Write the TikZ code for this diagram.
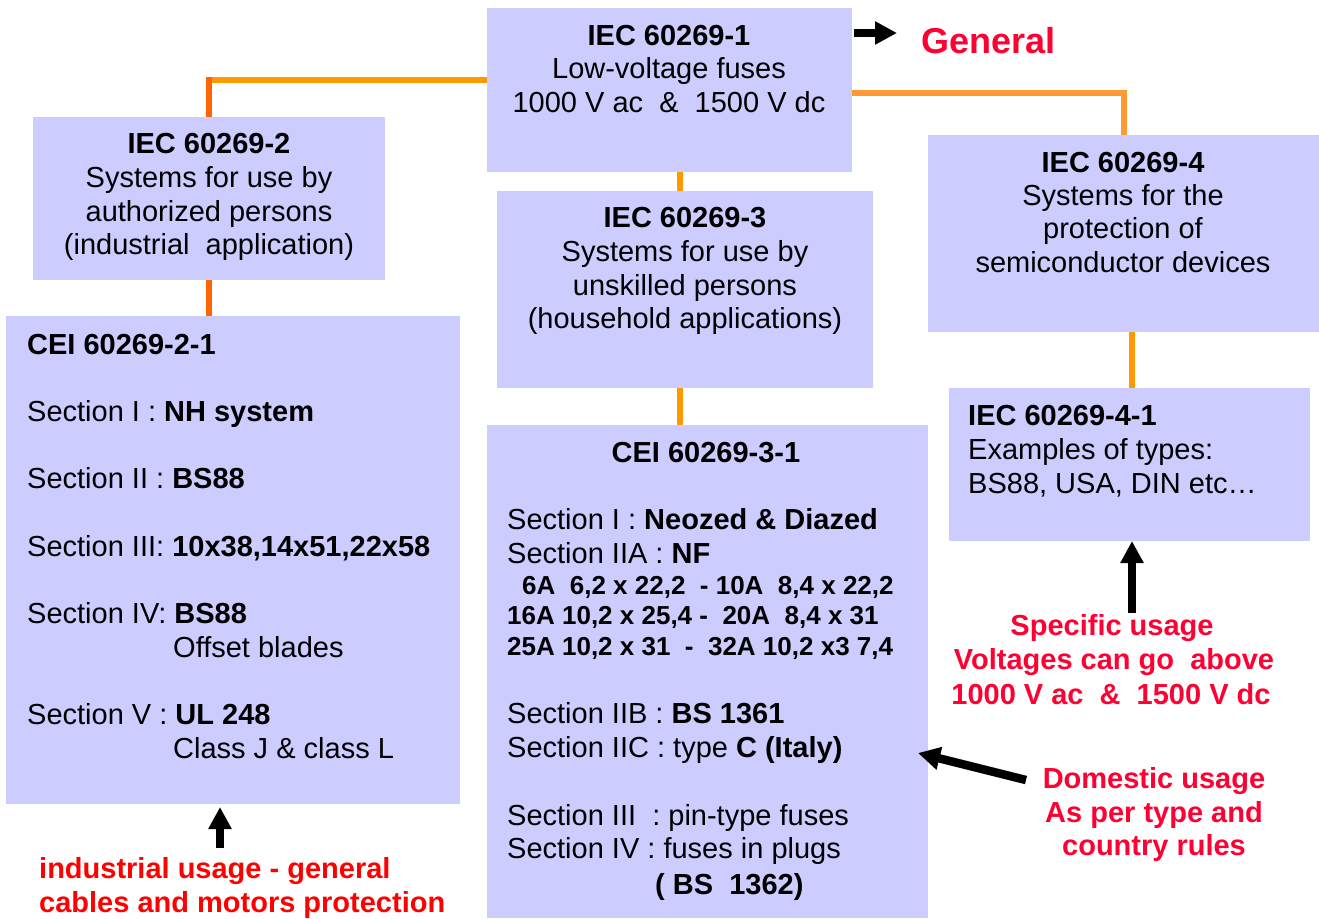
\documentclass[tikz,border=0pt]{standalone}
\usepackage{fontspec}
\setmainfont{Liberation Sans}
\usetikzlibrary{arrows.meta}
\definecolor{boxc}{HTML}{CCCCFF}
\definecolor{orA}{HTML}{FF9900}
\definecolor{orB}{HTML}{FF6600}
\definecolor{orC}{HTML}{FF9933}
\definecolor{redA}{HTML}{FF0033}
\definecolor{redB}{HTML}{FF0000}
\begin{document}
\begin{tikzpicture}[x=1pt,y=-1pt,
 box/.style={fill=boxc, inner sep=0pt, outer sep=0pt, anchor=north west},
 txt/.style={inner sep=0pt, anchor=base, font=\fontsize{29}{34}\selectfont},
 ttl/.style={txt, font=\fontsize{29}{34}\selectfont\bfseries},
 ltxt/.style={txt, anchor=base west},
 lttl/.style={ttl, anchor=base west},
 rows/.style={inner sep=0pt, anchor=base west, font=\fontsize{26}{30}\selectfont\bfseries},
 redtxt/.style={inner sep=0pt, anchor=base, text=redA, font=\fontsize{29}{34}\selectfont\bfseries},
 conn/.style={line width=6pt},
 bigarrow/.style={line width=8.5pt, -{Triangle[length=22pt,width=22pt]}},
]
\useasboundingbox (0,0) rectangle (1319,918);
\fill[white] (0,0) rectangle (1319,918);

% boxes
\node[box, minimum width=365pt, minimum height=164pt] (b1) at (487,8) {};
\node[box, minimum width=352pt, minimum height=163pt] (b2) at (33,117) {};
\node[box, minimum width=376pt, minimum height=197pt] (b3) at (497,191) {};
\node[box, minimum width=391pt, minimum height=197pt] (b4) at (928,135) {};
\node[box, minimum width=454pt, minimum height=488pt] (b21) at (6,316) {};
\node[box, minimum width=441pt, minimum height=493pt] (b31) at (487,425) {};
\node[box, minimum width=361pt, minimum height=153pt] (b41) at (949,388) {};

% connectors
\coordinate (k1) at ([yshift=10pt]b1.west);
\coordinate (k2) at (k1 -| b2.north);
\draw[conn, orA] (k1) -- ([xshift=-3pt]k2);
\draw[conn, orB] ([yshift=3pt]k2) -- (b2.north);
\draw[conn, orB] (b2.south) -- (b2.south |- b21.north);
\draw[conn, orA] ([xshift=10pt]b1.south) -- ([xshift=10pt]b1.south |- b3.north);
\draw[conn, orA] ([xshift=-5pt]b3.south) -- ([xshift=-5pt]b3.south |- b31.north);
\draw[conn, orC] ([yshift=-3pt]b1.east) -| (b4.north);
\draw[conn, orA] ([xshift=2pt]b41.north |- b4.south) -- ([xshift=2pt]b41.north);

% box 1
\node[ttl] (t1a) at (669,45) {IEC 60269-1};
\node[txt] (t1b) at (669,78) {Low-voltage fuses};
\node[txt] (t1c) at (669,112) {1000 V ac\ \ \&\ \ 1500 V dc};

% general
\node[inner sep=0pt, anchor=base west, text=redA, font=\fontsize{36}{40}\selectfont\bfseries] (gen) at (921,53) {General};
\coordinate (ga) at (854,33);
\coordinate (gb) at (897,33);
\draw[bigarrow] (ga) -- (gb);

% box 2
\node[ttl] (t2a) at (209,153) {IEC 60269-2};
\node[txt] (t2b) at (209,187) {Systems for use by};
\node[txt] (t2c) at (209,221) {authorized persons};
\node[txt] (t2d) at (209,254) {(industrial\ \ application)};

% box 3
\node[ttl] (t3a) at (685,227) {IEC 60269-3};
\node[txt] (t3b) at (685,261) {Systems for use by};
\node[txt] (t3c) at (685,295) {unskilled persons};
\node[txt] (t3d) at (685,328) {(household applications)};

% box 4
\node[ttl] (t4a) at (1123,172) {IEC 60269-4};
\node[txt] (t4b) at (1123,205) {Systems for the};
\node[txt] (t4c) at (1123,238) {protection of};
\node[txt] (t4d) at (1123,272) {semiconductor devices};

% box 4-1
\node[lttl] (t41a) at (968,425) {IEC 60269-4-1};
\node[ltxt] (t41b) at (968,459) {Examples of types:};
\node[ltxt] (t41c) at (968,493) {BS88, USA, DIN etc…};

% box 2-1
\node[lttl] (t21a) at (27,354) {CEI 60269-2-1};
\node[ltxt] (t21b) at (27,421) {Section I : \textbf{NH system}};
\node[ltxt] (t21c) at (27,488) {Section II : \textbf{BS88}};
\node[ltxt] (t21d) at (27,556) {Section III: \textbf{10x38,14x51,22x58}};
\node[ltxt] (t21e) at (27,623) {Section IV: \textbf{BS88}};
\node[ltxt] (t21f) at (173,657) {Offset blades};
\node[ltxt] (t21g) at (27,724) {Section V : \textbf{UL 248}};
\node[ltxt] (t21h) at (173,758) {Class J \& class L};

% box 3-1
\node[ttl] (t31a) at (706,462) {CEI 60269-3-1};
\node[ltxt] (t31b) at (507,529) {Section I : \textbf{Neozed \& Diazed}};
\node[ltxt] (t31c) at (507,563) {Section IIA : \textbf{NF}};
\node[rows] (t31d) at (522,594) {6A\ \ 6,2 x 22,2\ \ - 10A\ \ 8,4 x 22,2};
\node[rows] (t31e) at (507,624) {16A 10,2 x 25,4 -\ \ 20A\ \ 8,4 x 31};
\node[rows] (t31f) at (507,655) {25A 10,2 x 31\ \ -\ \ 32A 10,2 x3 7,4};
\node[ltxt] (t31g) at (507,723) {Section IIB : \textbf{BS 1361}};
\node[ltxt] (t31h) at (507,757) {Section IIC : type \textbf{C (Italy)}};
\node[ltxt] (t31i) at (507,825) {Section III\ \ : pin-type fuses};
\node[ltxt] (t31j) at (507,858) {Section IV : fuses in plugs};
\node[lttl] (t31k) at (655,894) {( BS\ \ 1362)};

% red notes
\node[redtxt] (s1) at (1112,635) {Specific usage};
\node[redtxt] (s2) at (1114,669) {Voltages can go\ \ above};
\node[redtxt] (s3) at (1111,704) {1000 V ac\ \ \&\ \ 1500 V dc};
\coordinate (sa) at (1132,613);
\draw[bigarrow] (sa) -- (sa |- b41.south);

\node[redtxt] (d1) at (1154,788) {Domestic usage};
\node[redtxt] (d2) at (1154,822) {As per type and};
\node[redtxt] (d3) at (1154,855) {country rules};
\coordinate (da) at (1026,780);
\coordinate (db) at (918,753);
\draw[bigarrow] (da) -- (db);

\node[redtxt, text=redB, anchor=base west] (i1) at (39,878) {industrial usage - general};
\node[redtxt, text=redB, anchor=base west] (i2) at (39,912) {cables and motors protection};
\coordinate (ia) at (220,848);
\draw[bigarrow] (ia) -- ([yshift=-3pt]ia |- b21.south);
\end{tikzpicture}
\end{document}
